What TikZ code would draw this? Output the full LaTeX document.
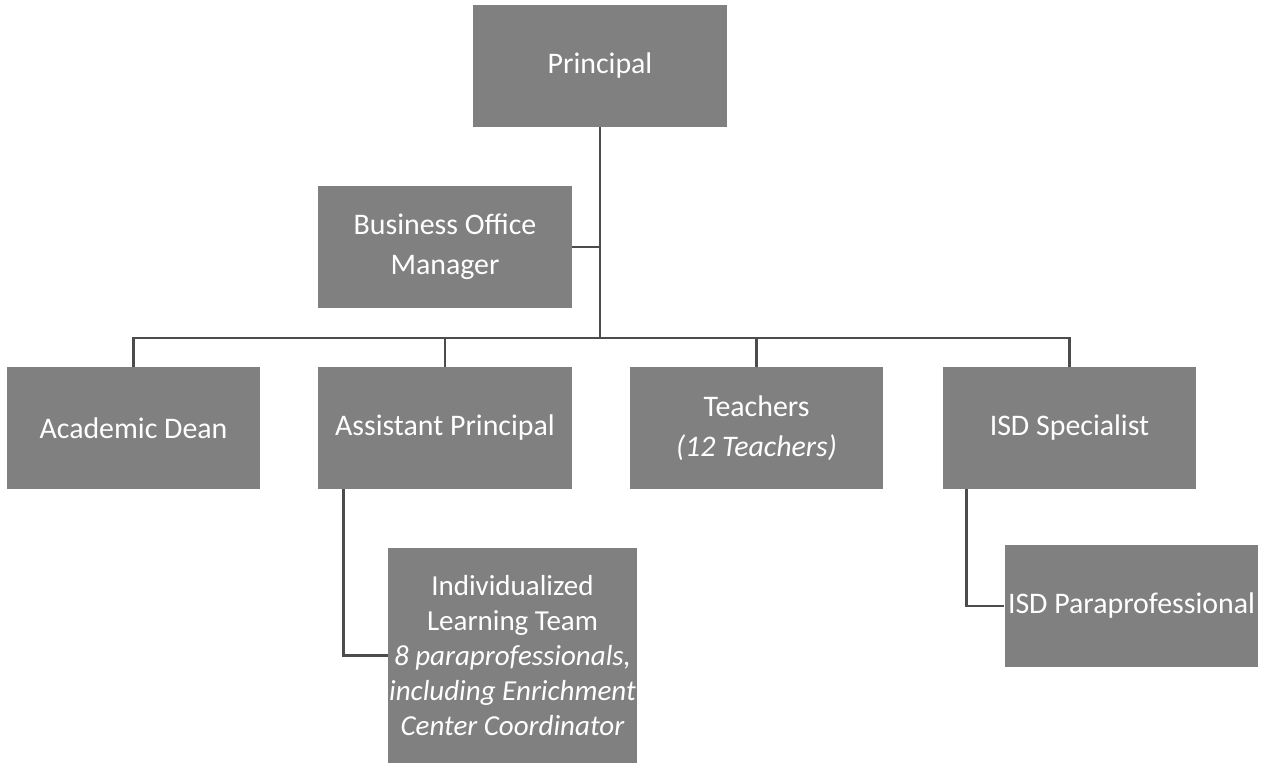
\documentclass[tikz,border=0pt]{standalone}
\usepackage{fontspec}
\setmainfont{Carlito}
\begin{document}
\begin{tikzpicture}[x=0.02cm, y=-0.02cm,
  post/.style={fill=black!50, text=white, align=center, inner sep=0pt,
    minimum width=5.08cm, minimum height=2.44cm, font=\fontsize{17}{23}\selectfont},
  link/.style={draw=black!70, line width=1.6pt}]
\useasboundingbox (0,0) rectangle (1268,763);

\node[post] (prin) at (600,66) {Principal};
\node[post] (bom) at (445,247) {Business Office\\Manager};

\node[post] (dean) at (133.5,428) {Academic Dean};
\node[post] (ap) at (445,428) {Assistant Principal};
\node[post] (teach) at (756.5,428) {Teachers\\\textit{(12 Teachers)}};
\node[post] (isd) at (1069.5,428) {ISD Specialist};

\node[post, minimum width=4.98cm, minimum height=4.3cm, font=\fontsize{16.5}{20}\selectfont] (ilt) at (512.5,655.5)
  {Individualized\\Learning Team\\\textit{8 paraprofessionals,}\\\textit{including Enrichment}\\\textit{Center Coordinator}};
\node[post] (para) at (1131.5,606) {ISD Paraprofessional};

\coordinate (hub) at (600,338);

\draw[link] (prin.south) -- (hub);
\draw[link] (bom.east) -- (bom.east -| prin.south);
\draw[link] (dean.north) |- (hub) -| (isd.north);
\draw[link] (ap.north) -- (ap.north |- hub);
\draw[link] (teach.north) -- (teach.north |- hub);
\draw[link] ([xshift=0.52cm]ap.south west) |- (ilt.west);
\draw[link] ([xshift=0.48cm]isd.south west) |- (para.west);
\end{tikzpicture}
\end{document}
